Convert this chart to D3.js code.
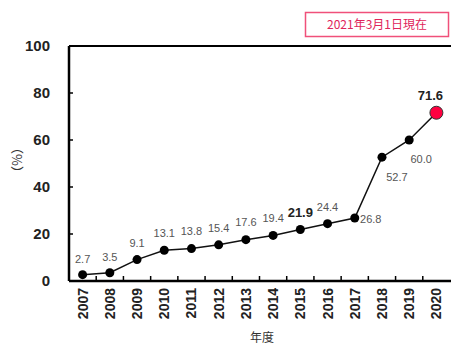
<!DOCTYPE html>
<html><head><meta charset="utf-8">
<script src="https://cdn.jsdelivr.net/npm/d3@7"></script>
<style>body{margin:0;background:#fff}svg{display:block}</style>
</head><body>
<svg id="c" width="451" height="347"></svg>
<script>
const years = ["2007","2008","2009","2010","2011","2012","2013","2014","2015","2016","2017","2018","2019","2020"];
const values = [2.7,3.5,9.1,13.1,13.8,15.4,17.6,19.4,21.9,24.4,26.8,52.7,60.0,71.6];
const labels = ["2.7","3.5","9.1","13.1","13.8","15.4","17.6","19.4","21.9","24.4","26.8","52.7","60.0","71.6"];
const yTicks = [0,20,40,60,80,100];

const svg = d3.select("#c");
const L = 69, R = 450, T = 46, B = 281;
const x = d3.scaleBand().domain(years).range([L, R]);
const y = d3.scaleLinear().domain([0,100]).range([B, T]);
const cx = d => x(d) + x.bandwidth()/2;

// frame
svg.append("line").attr("x1",L).attr("x2",451).attr("y1",T).attr("y2",T).attr("stroke","#000").attr("stroke-width",2);
svg.append("line").attr("x1",L).attr("x2",L).attr("y1",T).attr("y2",B).attr("stroke","#000").attr("stroke-width",2.5);
svg.append("line").attr("x1",L).attr("x2",451).attr("y1",B).attr("y2",B).attr("stroke","#000").attr("stroke-width",2.5);

// y ticks and labels
yTicks.forEach(t => {
  if (t>0 && t<100) svg.append("line").attr("x1",L).attr("x2",L+4).attr("y1",y(t)).attr("y2",y(t)).attr("stroke","#000").attr("stroke-width",1.5);
  svg.append("text").attr("x",50).attr("y",y(t)).attr("dy","0.36em").attr("text-anchor","end")
    .attr("font-family","Liberation Sans, Arial, sans-serif").attr("font-weight","bold").attr("font-size",15).attr("fill","#222").text(t);
});
// x ticks between bands (inner)
years.slice(1).forEach(yr => {
  svg.append("line").attr("x1",x(yr)).attr("x2",x(yr)).attr("y1",B).attr("y2",B-5).attr("stroke","#000").attr("stroke-width",1.5);
});
// x labels rotated
years.forEach(yr => {
  svg.append("text").attr("transform",`translate(${cx(yr)+5},${B+7}) rotate(-90)`).attr("text-anchor","end")
    .attr("font-family","Liberation Sans, Arial, sans-serif").attr("font-weight","bold").attr("font-size",14).attr("fill","#222").text(yr);
});
// axis titles
svg.append("text").attr("x",262).attr("y",342).attr("text-anchor","middle").attr("font-family","Noto Sans CJK JP, sans-serif").attr("font-size",12).attr("fill","#333").text("年度");
svg.append("text").attr("transform","translate(22,160) rotate(-90)").attr("text-anchor","middle").attr("font-family","Noto Sans CJK JP, sans-serif").attr("font-size",13).attr("fill","#333").text("（%）");

// line
const line = d3.line().x((d,i)=>cx(years[i])).y(d=>y(d));
svg.append("path").datum(values).attr("d",line).attr("fill","none").attr("stroke","#111").attr("stroke-width",1.5);
// points
svg.selectAll("circle.p").data(values.slice(0,-1)).enter().append("circle")
  .attr("cx",(d,i)=>cx(years[i])).attr("cy",d=>y(d)).attr("r",4.5).attr("fill","#000");
const last = values.length-1;
svg.append("circle").attr("cx",cx(years[last])).attr("cy",y(values[last])).attr("r",6.5).attr("fill","#ff0040").attr("stroke","#333").attr("stroke-width",1);

// data labels
const off = {
  0:[0,-16],1:[0,-16],2:[0,-16],3:[0,-17],4:[0,-17],5:[0,-17],6:[0,-17],7:[0,-17],8:[0,-17],9:[0,-17],
  10:[16,1],11:[15,20],12:[12,19],13:[-6,-17]
};
values.forEach((v,i)=>{
  const bold = (i===8 || i===last);
  svg.append("text").attr("x",cx(years[i])+off[i][0]).attr("y",y(v)+off[i][1]).attr("dy","0.35em")
    .attr("text-anchor","middle")
    .attr("font-family", bold ? "Liberation Sans, Arial, sans-serif" : "Liberation Sans Narrow, Liberation Sans, sans-serif")
    .attr("font-weight", bold ? "bold":"normal").attr("font-size", bold?13:11)
    .attr("fill", bold ? "#222" : "#555").text(labels[i]);
});

// date box
svg.append("rect").attr("x",305.5).attr("y",12.5).attr("width",143).attr("height",24).attr("fill","#fff").attr("stroke","#f0507a").attr("stroke-width",1.5);
svg.append("text").attr("x",377).attr("y",25).attr("dy","0.36em").attr("text-anchor","middle")
  .attr("font-family","Noto Sans CJK JP, sans-serif").attr("font-size",12).attr("fill","#e0245a").text("2021年3月1日現在");
</script>
</body></html>
